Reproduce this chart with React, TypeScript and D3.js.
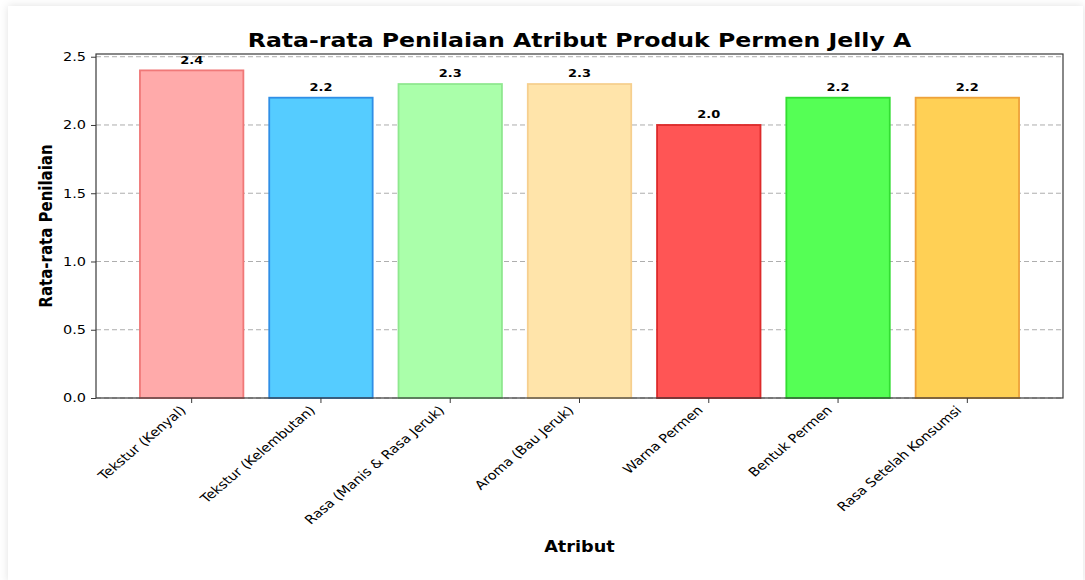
import React, { useRef, useEffect } from 'react';
import * as d3 from 'd3';

const categories = [
  'Tekstur (Kenyal)',
  'Tekstur (Kelembutan)',
  'Rasa (Manis & Rasa Jeruk)',
  'Aroma (Bau Jeruk)',
  'Warna Permen',
  'Bentuk Permen',
  'Rasa Setelah Konsumsi',
];
const values = [2.4, 2.2, 2.3, 2.3, 2.0, 2.2, 2.2];
const fills = ['#ffaaaa', '#55ccff', '#aaffaa', '#ffe4aa', '#ff5555', '#55ff55', '#ffd055'];
const edges = ['#f07878', '#2f8fe6', '#8fe88f', '#f6cf8e', '#dd2a2a', '#33dd33', '#eea23a'];
const yTicks = [0, 0.5, 1.0, 1.5, 2.0, 2.5];

const W = 1085;
const H = 580;
const FONT = '"DejaVu Sans", sans-serif';
// the reference picture is a bit wider than tall, so text gets stretched sideways
const SX = 1.18;

const App: React.FC = () => {
  const ref = useRef<SVGSVGElement | null>(null);

  useEffect(() => {
    if (!ref.current) return;
    const svg = d3.select(ref.current);
    svg.selectAll('*').remove();

    const margin = { top: 54, right: 22, bottom: 182, left: 96 };
    const innerWidth = W - margin.left - margin.right;
    const innerHeight = H - margin.top - margin.bottom;

    // card with soft shadow
    const defs = svg.append('defs');
    const f = defs.append('filter').attr('id', 'shadow').attr('x', '-5%').attr('y', '-5%').attr('width', '110%').attr('height', '110%');
    f.append('feDropShadow').attr('dx', 0).attr('dy', 0).attr('stdDeviation', 4).attr('flood-color', '#000').attr('flood-opacity', 0.12);
    svg.append('rect').attr('width', W).attr('height', H).attr('fill', '#ffffff');
    svg.append('rect')
      .attr('x', 8).attr('y', 6).attr('width', W - 10).attr('height', H - 4)
      .attr('fill', '#ffffff').attr('filter', 'url(#shadow)');

    const x = d3.scaleBand<string>()
      .domain(categories)
      .range([0, innerWidth])
      .paddingInner(0.2)
      .paddingOuter(0.34);

    const y = d3.scaleLinear()
      .domain([0, 2.52])
      .range([innerHeight, 0]);

    const g = svg.append('g').attr('transform', `translate(${margin.left},${margin.top})`);

    // grid
    g.selectAll('.grid')
      .data(yTicks)
      .enter().append('line')
      .attr('x1', 0).attr('x2', innerWidth)
      .attr('y1', d => y(d)).attr('y2', d => y(d))
      .attr('stroke', '#8c8c8c')
      .attr('stroke-width', 0.9)
      .attr('stroke-dasharray', '5,3')
      .attr('opacity', 0.8);

    // bars
    g.selectAll('.bar')
      .data(values)
      .enter().append('rect')
      .attr('x', (d, i) => (x(categories[i]) || 0))
      .attr('y', d => y(d))
      .attr('width', x.bandwidth())
      .attr('height', d => innerHeight - y(d))
      .attr('fill', (d, i) => fills[i])
      .attr('stroke', (d, i) => edges[i])
      .attr('stroke-width', 1.8);

    // value labels
    g.selectAll('.val')
      .data(values)
      .enter().append('text')
      .attr('transform', (d, i) => `translate(${(x(categories[i]) || 0) + x.bandwidth() / 2},${y(d + 0.05)}) scale(${SX},1)`)
      .attr('text-anchor', 'middle')
      .attr('font-family', FONT)
      .attr('font-size', 11)
      .attr('font-weight', 'bold')
      .attr('fill', '#000')
      .text(d => d.toFixed(1));

    // frame
    g.append('rect')
      .attr('x', 0).attr('y', 0).attr('width', innerWidth).attr('height', innerHeight)
      .attr('fill', 'none').attr('stroke', '#3a3a3a').attr('stroke-width', 1.2);

    // y axis
    const yAxis = g.append('g')
      .call(d3.axisLeft(y).tickValues(yTicks).tickSize(5).tickPadding(0).tickFormat(d3.format('.1f')));
    yAxis.select('.domain').remove();
    yAxis.selectAll('line').attr('stroke', '#3a3a3a');
    yAxis.selectAll('text')
      .attr('x', null)
      .attr('transform', `translate(-10,0) scale(${SX},1)`)
      .attr('font-family', FONT)
      .attr('font-size', 12.3)
      .attr('fill', '#000');

    // x axis
    const xAxis = g.append('g')
      .attr('transform', `translate(0,${innerHeight})`)
      .call(d3.axisBottom(x).tickSize(5).tickPadding(0));
    xAxis.select('.domain').remove();
    xAxis.selectAll('line').attr('stroke', '#3a3a3a');
    xAxis.selectAll('text')
      .attr('y', null)
      .attr('dy', null)
      .attr('font-family', FONT)
      .attr('font-size', 12.3)
      .attr('fill', '#000')
      .attr('text-anchor', 'end')
      .attr('transform', `translate(-5,13) scale(${SX},1) rotate(-45)`);

    // title
    svg.append('text')
      .attr('transform', `translate(${margin.left + innerWidth / 2},47) scale(${SX},1)`)
      .attr('text-anchor', 'middle')
      .attr('font-family', FONT)
      .attr('font-size', 20)
      .attr('font-weight', 'bold')
      .text('Rata-rata Penilaian Atribut Produk Permen Jelly A');

    // axis labels
    svg.append('text')
      .attr('transform', `translate(${margin.left + innerWidth / 2},552) scale(${SX},1)`)
      .attr('text-anchor', 'middle')
      .attr('font-family', FONT)
      .attr('font-size', 15)
      .attr('font-weight', 'bold')
      .text('Atribut');

    svg.append('text')
      .attr('transform', `translate(52,${margin.top + innerHeight / 2}) scale(${SX},1) rotate(-90)`)
      .attr('text-anchor', 'middle')
      .attr('font-family', FONT)
      .attr('font-size', 15)
      .attr('font-weight', 'bold')
      .text('Rata-rata Penilaian');
  }, []);

  return (
    <svg
      ref={ref}
      width={W}
      height={H}
      style={{ position: 'absolute', left: 0, top: 0, display: 'block' }}
    />
  );
};

export default App;
